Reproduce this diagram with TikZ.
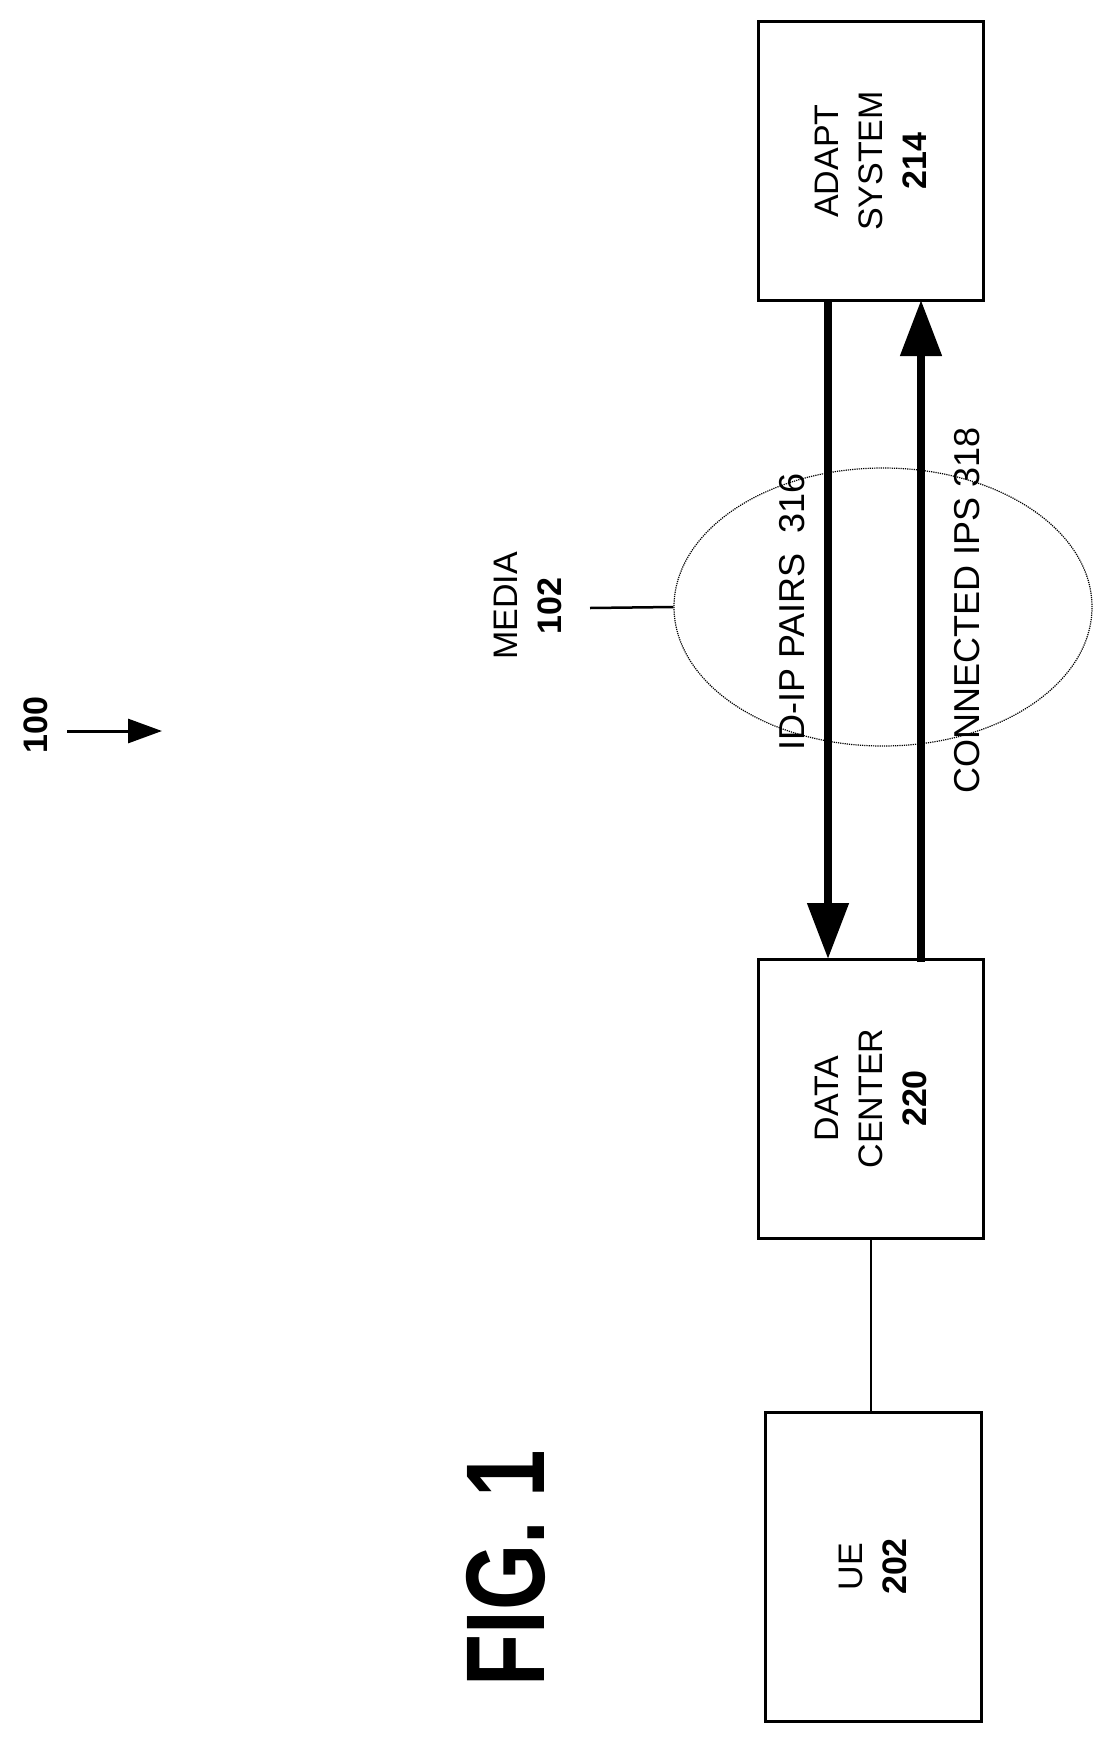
\documentclass[tikz,border=0pt]{standalone}
\usepackage{fontspec}
\setmainfont{Liberation Sans}
\usetikzlibrary{arrows.meta,shapes.geometric}
\begin{document}
\begin{tikzpicture}[x=1pt,y=-1pt,
  box/.style={draw,line width=3pt,minimum width=225pt,inner sep=0pt},
  lbl/.style={rotate=90,font=\fontsize{34}{44}\selectfont,align=center},
  thick arrow/.style={line width=8pt,-{Triangle[length=56pt,width=40pt]}}]
\useasboundingbox (0,0) rectangle (1112,1742);
\node[box,minimum height=278pt] (adapt) at (870.5,161) {};
\node[lbl] at (adapt) {ADAPT\\SYSTEM\\\textbf{214}};
\node[box,minimum height=279pt] (dc) at (870.5,1098.5) {};
\node[lbl] at (dc) {DATA\\CENTER\\\textbf{220}};
\node[box,minimum height=309pt,minimum width=216pt] (ue) at (873,1566.5) {};
\node[lbl] at (ue) {UE\\\textbf{202}};
\draw[line width=2.5pt] (dc.south -| 871,0) -- (ue.north -| 871,0);
\coordinate (a1) at (828,300); \coordinate (a2) at (828,959);
\coordinate (b1) at (921,962); \coordinate (b2) at (921,300);
\draw[thick arrow] (a1) -- (a2);
\draw[thick arrow] (b1) -- (b2);
\node[draw,densely dotted,line width=1.2pt,ellipse,minimum width=418pt,minimum height=278pt] (media) at (883,607) {};
\node[lbl,font=\fontsize{36}{44}\selectfont] at (792,612) {ID-IP PAIRS\ \ 316};
\node[lbl,font=\fontsize{36}{44}\selectfont] at (967,610) {CONNECTED IPS 318};
\node[lbl] (medial) at (528,606) {MEDIA\\\textbf{102}};
\coordinate (m1) at (590,608);
\draw[line width=2.5pt] (m1) -- (media.west);
\node[lbl,font=\bfseries\fontsize{34}{44}\selectfont] (n100) at (36,725) {100};
\coordinate (c1) at (67,731); \coordinate (c2) at (162,731);
\draw[line width=3pt,-{Triangle[length=34pt,width=24pt]}] (c1) -- (c2);
\node[rotate=90,font=\bfseries\fontsize{112}{120}\selectfont] (fig) at (506,1568) {\scalebox{0.76}[1]{FIG. 1}};
\end{tikzpicture}
\end{document}
